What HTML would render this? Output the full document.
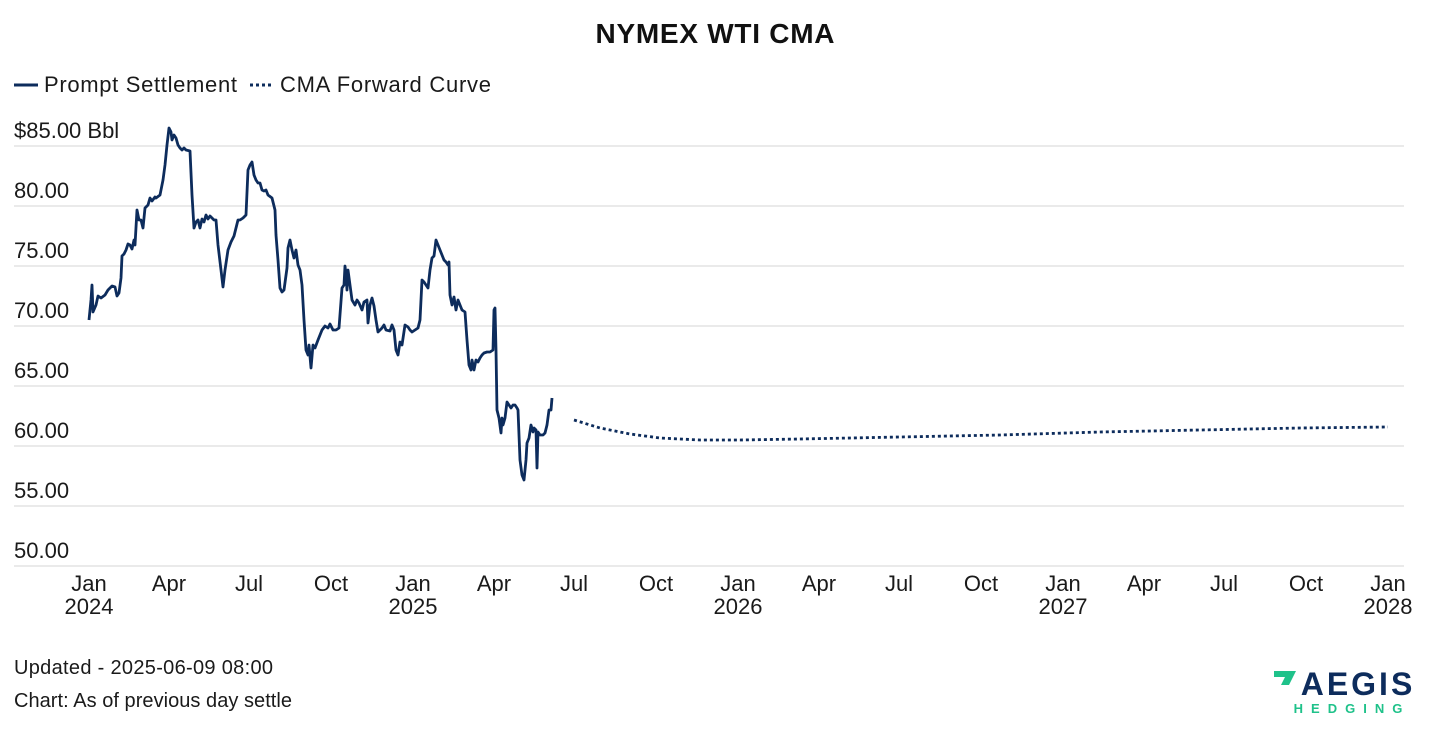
<!DOCTYPE html>
<html><head><meta charset="utf-8"><style>
body{margin:0;background:#fff;width:1430px;height:728px;overflow:hidden;font-family:"Liberation Sans",sans-serif;}
</style></head><body>
<svg width="1430" height="728" xmlns="http://www.w3.org/2000/svg" font-family="Liberation Sans, sans-serif" fill="#1a1a1a">
<text x="715" y="43" text-anchor="middle" font-size="28" font-weight="bold" fill="#111" textLength="239">NYMEX WTI CMA</text>
<line x1="14" y1="85" x2="38" y2="85" stroke="#0d2c5c" stroke-width="3"/>
<text x="44" y="92" font-size="22" textLength="193">Prompt Settlement</text>
<line x1="250" y1="85" x2="274" y2="85" stroke="#0d2c5c" stroke-width="3" stroke-dasharray="3,3"/>
<text x="280" y="92" font-size="22" textLength="211">CMA Forward Curve</text>
<g stroke="#e3e3e3" stroke-width="1.5">
<line x1="14" y1="146" x2="1404" y2="146"/><line x1="14" y1="206" x2="1404" y2="206"/><line x1="14" y1="266" x2="1404" y2="266"/><line x1="14" y1="326" x2="1404" y2="326"/><line x1="14" y1="386" x2="1404" y2="386"/><line x1="14" y1="446" x2="1404" y2="446"/><line x1="14" y1="506" x2="1404" y2="506"/><line x1="14" y1="566" x2="1404" y2="566"/>
</g>
<g font-size="22">
<text x="14" y="138">$85.00 Bbl</text><text x="14" y="198">80.00</text><text x="14" y="258">75.00</text><text x="14" y="318">70.00</text><text x="14" y="378">65.00</text><text x="14" y="438">60.00</text><text x="14" y="498">55.00</text><text x="14" y="558">50.00</text>
</g>
<g font-size="22" text-anchor="middle">
<text x="89" y="591">Jan</text><text x="89" y="614">2024</text>
<text x="169" y="591">Apr</text><text x="249" y="591">Jul</text><text x="331" y="591">Oct</text>
<text x="413" y="591">Jan</text><text x="413" y="614">2025</text>
<text x="494" y="591">Apr</text><text x="574" y="591">Jul</text><text x="656" y="591">Oct</text>
<text x="738" y="591">Jan</text><text x="738" y="614">2026</text>
<text x="819" y="591">Apr</text><text x="899" y="591">Jul</text><text x="981" y="591">Oct</text>
<text x="1063" y="591">Jan</text><text x="1063" y="614">2027</text>
<text x="1144" y="591">Apr</text><text x="1224" y="591">Jul</text><text x="1306" y="591">Oct</text>
<text x="1388" y="591">Jan</text><text x="1388" y="614">2028</text>
</g>
<polyline fill="none" stroke="#0d2c5c" stroke-width="2.8" stroke-linejoin="round" points="89,320 91,300 92,285 93,312 96,305 98,296 101,298 105,295 108,290 112,286 115,287 117,296 119,293 121,278 122,256 124,254 126,250 128,244 130,245 132,249 134,240 135,245 137,210 139,220 141,220 143,228 145,208 148,205 150,198 152,201 155,197 156,198 160,195 163,180 165,165 167,145 169,128 171,132 172,140 174,135 176,138 178,145 180,148 182,150 184,148 186,150 190,151 192,195 194,228 196,222 198,220 200,228 202,219 204,222 206,215 208,219 210,216 212,218 214,220 216,220 218,245 221,270 223,287 225,270 228,250 231,242 234,236 238,220 240,220 243,218 246,215 248,170 250,165 252,162 254,175 256,180 258,183 260,183 262,190 264,191 266,190 268,195 272,198 275,210 276,235 278,260 280,288 282,292 284,290 287,268 288,248 290,240 292,250 294,258 296,250 298,265 300,270 302,285 304,320 306,350 308,355 309,345 311,368 313,345 315,348 318,340 322,330 325,326 328,328 330,324 333,330 336,330 339,328 342,288 344,285 345,266 346,275 347,290 348,270 350,285 352,300 355,305 357,300 359,303 362,310 364,302 367,300 368,323 370,305 372,298 374,306 376,320 378,332 380,330 382,328 384,325 386,330 390,331 392,325 394,330 396,350 398,355 400,342 402,345 405,325 408,327 410,330 412,332 415,330 418,328 420,320 422,280 424,282 426,285 428,288 430,270 432,258 434,256 436,240 438,245 440,250 442,255 444,260 446,262 448,265 449,262 450,295 452,305 454,297 456,310 458,300 460,305 462,310 465,312 467,340 469,365 471,370 472,360 474,370 476,360 478,362 480,358 482,355 484,353 487,352 490,352 493,350 494,310 495,308 496,350 497,410 499,418 501,433 502,418 503,425 505,418 507,402 509,405 511,408 513,405 515,405 517,408 518,410 520,460 522,475 524,480 526,460 527,443 529,438 531,425 533,432 534,428 536,430 537,468 538,432 540,435 543,435 545,433 547,425 549,410 551,410 552,398"/>
<polyline fill="none" stroke="#0d2c5c" stroke-width="2.8" stroke-dasharray="3,3" points="574,420 600,428 630,434 660,438 700,440 740,440 800,439 900,437 1000,435 1100,432 1200,430 1300,428 1388,427"/>
<text x="14" y="674" font-size="20" textLength="259">Updated - 2025-06-09 08:00</text>
<text x="14" y="707" font-size="20" textLength="278">Chart: As of previous day settle</text>
<polygon points="1274,671 1296,671 1289,685 1281,685 1285,677 1274,677" fill="#1fc28a"/>
<text x="1358" y="695" text-anchor="middle" font-size="32" font-weight="bold" fill="#0d2c5c" letter-spacing="3">AEGIS</text>
<text x="1352" y="713" text-anchor="middle" font-size="13" font-weight="bold" fill="#1fc28a" letter-spacing="8">HEDGING</text>
</svg>
</body></html>
